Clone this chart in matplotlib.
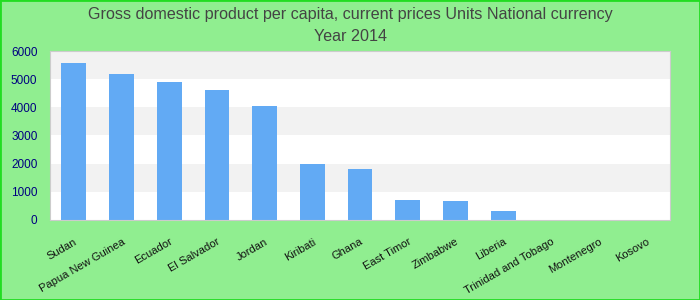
import numpy as np
import matplotlib.pyplot as plt
from matplotlib.patches import Rectangle
from matplotlib.transforms import ScaledTranslation

plt.rcParams['font.family'] = ['Liberation Sans', 'DejaVu Sans']

countries = ['Sudan', 'Papua New Guinea', 'Ecuador', 'El Salvador', 'Jordan',
             'Kiribati', 'Ghana', 'East Timor', 'Zimbabwe', 'Liberia',
             'Trinidad and Tobago', 'Montenegro', 'Kosovo']
gdp = [5580, 5180, 4900, 4615, 4050, 1990, 1810, 710, 675, 320, 0, 0, 0]
yticks = [0, 1000, 2000, 3000, 4000, 5000, 6000]

fig = plt.figure(figsize=(7, 3), dpi=100, facecolor='#90ee90')
fig.patches.append(Rectangle((0, 0), 1, 1, transform=fig.transFigure,
                             fill=False, edgecolor='#22dd22', linewidth=2))
ax = fig.add_axes([0.0714, 0.267, 0.886, 0.563])
ax.set_facecolor('white')

# alternating bands
for i in range(len(yticks) - 1):
    if i % 2 == 1:
        ax.axhspan(yticks[i], yticks[i + 1], color='#f2f2f2', zorder=0, lw=0)

x = np.arange(len(countries))
ax.bar(x, gdp, width=0.52, color='#62aaf4', zorder=2)

ax.set_xlim(-0.5, len(countries) - 0.5)
ax.set_ylim(0, 6000)
ax.set_yticks(yticks)
ax.set_yticklabels([str(v) for v in yticks], color='#000080', fontsize=8.5)
ax.set_xticks(x)
ax.set_xticklabels(countries, rotation=30, ha='right', rotation_mode='anchor',
                   fontsize=8, color='#111111')
shift = ScaledTranslation(-5 / 100, 0, fig.dpi_scale_trans)
for lbl in ax.get_xticklabels():
    lbl.set_transform(lbl.get_transform() + shift)
ax.tick_params(length=0, axis='y', pad=9)
ax.tick_params(length=0, axis='x', pad=12)
for s in ax.spines.values():
    s.set_color('#cccccc')

fig.text(0.5, 0.953, 'Gross domestic product per capita, current prices Units National currency',
         ha='center', va='center', fontsize=11.6, color='#444444')
fig.text(0.5, 0.878, 'Year 2014', ha='center', va='center', fontsize=11.6, color='#444444')

fig.savefig('out.png', dpi=100, facecolor=fig.get_facecolor())
